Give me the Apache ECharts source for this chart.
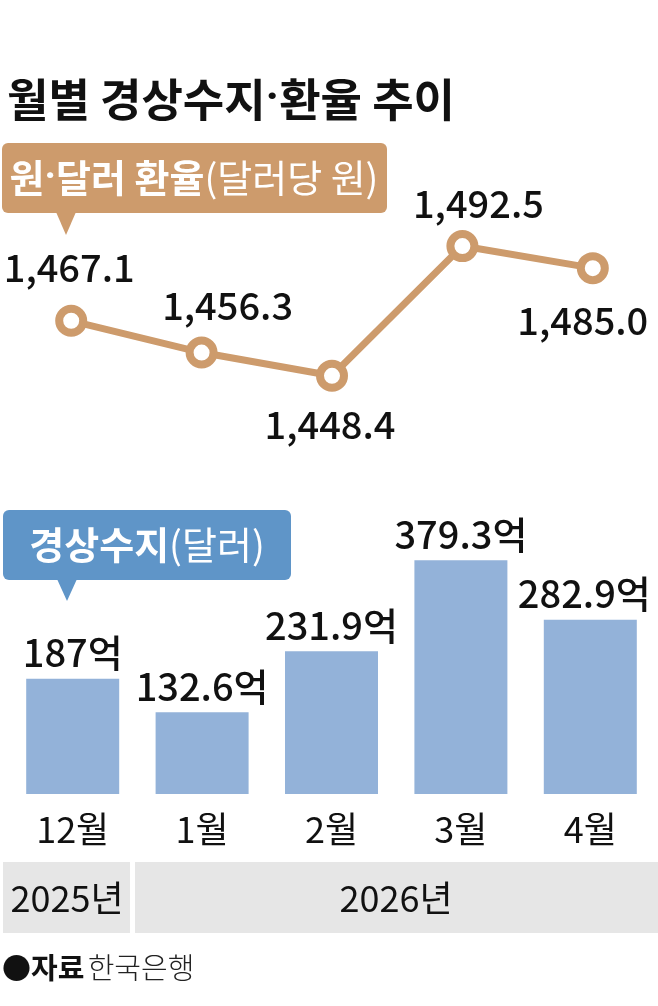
<!DOCTYPE html>
<html>
<head>
<meta charset="utf-8">
<script src="https://cdn.jsdelivr.net/npm/echarts@6/dist/echarts.min.js"></script>
<style>
  html, body { margin: 0; padding: 0; background: #fff; }
  #main { width: 658px; height: 1006px; }
</style>
</head>
<body>
<div id="main"></div>
<script>
// data
var months = ['12월', '1월', '2월', '3월', '4월'];
var years = ['2025년', '2026년'];
var rate = [1467.1, 1456.3, 1448.4, 1492.5, 1485.0];
var balance = [187, 132.6, 231.9, 379.3, 282.9];

var FONT = '"Noto Sans CJK KR", "Noto Sans", sans-serif';
var NARROW = '"Liberation Sans Narrow", "Noto Sans CJK KR", sans-serif';
var DOT = 'Roboto, "Noto Sans", sans-serif';
var BROWN = '#CD9B6C';
var BLUE = '#5F95C8';

// where each rate label sits, relative to its point
var rateLabelOffset = [[-2, -53], [26, -47], [-2, 49], [16, -43], [-10, 52]];

var chart = echarts.init(document.getElementById('main'), null, { renderer: 'canvas' });

var rateData = rate.map(function (v, i) {
	return {
		value: v,
		label: { offset: rateLabelOffset[i] }
	};
});

var balanceData = balance.map(function (v, i) {
	return {
		value: v,
		label: { offset: i == balance.length - 1 ? [-6, 0] : [0, 0] }
	};
});

function bubbleText(bold, normal, size) {
	return {
		b: { fontFamily: FONT, fontSize: size, fontWeight: 'bold', fill: '#fff' },
		d: { fontFamily: DOT, fontSize: size, fontWeight: 'bold', fill: '#fff' },
		n: { fontFamily: FONT, fontSize: size, fontWeight: 'normal', fill: '#fff' }
	};
}

var option = {
	backgroundColor: '#fff',
	animation: false,
	title: {
		text: '{a|월별 경상수지}{d|·}{a|환율 추이}',
		left: 2,
		top: 72,
		textStyle: {
			rich: {
				a: { fontFamily: FONT, fontSize: 45, fontWeight: 'bold', color: '#111' },
				d: { fontFamily: DOT, fontSize: 45, fontWeight: 'bold', color: '#111' }
			}
		}
	},
	grid: [
		{ left: 6, width: 657, top: 224, height: 176.5 },
		{ left: 8, width: 647, top: 547.6, height: 246.4 }
	],
	xAxis: [{
		gridIndex: 0,
		type: 'category',
		data: months,
		show: false
	}, {
		gridIndex: 1,
		type: 'category',
		data: months,
		axisLine: { show: false },
		axisTick: { show: false },
		axisLabel: {
			margin: 17,
			fontFamily: NARROW,
			fontSize: 36,
			color: '#111'
		}
	}],
	yAxis: [{
		gridIndex: 0,
		type: 'value',
		min: 1440,
		max: 1500,
		show: false
	}, {
		gridIndex: 1,
		type: 'value',
		min: 0,
		max: 400,
		show: false
	}],
	series: [{
		name: '원·달러 환율',
		type: 'line',
		xAxisIndex: 0,
		yAxisIndex: 0,
		data: rateData,
		symbol: 'circle',
		symbolSize: 24,
		lineStyle: { color: BROWN, width: 7 },
		itemStyle: { color: '#fff', borderColor: BROWN, borderWidth: 8 },
		label: {
			show: true,
			position: 'inside',
			fontFamily: FONT,
			fontSize: 38,
			fontWeight: 500,
			color: '#111',
			formatter: function (p) {
				return p.value.toLocaleString('en-US', { minimumFractionDigits: 1, maximumFractionDigits: 1 });
			}
		},
		z: 3
	}, {
		name: '경상수지',
		type: 'bar',
		xAxisIndex: 1,
		yAxisIndex: 1,
		data: balanceData,
		barWidth: 93,
		itemStyle: { color: '#93B2D9' },
		label: {
			show: true,
			position: 'top',
			distance: 7,
			fontFamily: FONT,
			fontSize: 38,
			fontWeight: 500,
			color: '#111',
			formatter: function (p) {
				return p.value + '억';
			}
		}
	}],
	graphic: [
		// brown legend bubble
		{
			type: 'group',
			left: 2,
			top: 143,
			children: [{
				type: 'rect',
				shape: { x: 0, y: 0, width: 385, height: 70, r: 6 },
				style: { fill: BROWN }
			}, {
				type: 'polygon',
				shape: { points: [[54, 69], [74, 69], [64, 92]] },
				style: { fill: BROWN }
			}, {
				type: 'text',
				x: 192,
				y: 35,
				style: {
					text: '{b|원}{d|·}{b|달러 환율}{n|(달러당 원)}',
					align: 'center',
					verticalAlign: 'middle',
					rich: bubbleText(true, true, 38)
				}
			}]
		},
		// blue legend bubble
		{
			type: 'group',
			left: 3,
			top: 510,
			children: [{
				type: 'rect',
				shape: { x: 0, y: 0, width: 288, height: 70, r: 6 },
				style: { fill: BLUE }
			}, {
				type: 'polygon',
				shape: { points: [[54, 69], [74, 69], [64, 91]] },
				style: { fill: BLUE }
			}, {
				type: 'text',
				x: 144,
				y: 35,
				style: {
					text: '{b|경상수지}{n|(달러)}',
					align: 'center',
					verticalAlign: 'middle',
					rich: bubbleText(true, true, 38)
				}
			}]
		},
		// year band
		{
			type: 'rect',
			shape: { x: 3, y: 862, width: 127, height: 71 },
			style: { fill: '#E6E6E6' }
		},
		{
			type: 'rect',
			shape: { x: 135, y: 862, width: 523, height: 71 },
			style: { fill: '#E6E6E6' }
		},
		{
			type: 'text',
			x: 67,
			y: 898,
			style: {
				text: years[0],
				align: 'center',
				verticalAlign: 'middle',
				fontFamily: NARROW,
				fontSize: 36,
				fill: '#111'
			}
		},
		{
			type: 'text',
			x: 396,
			y: 898,
			style: {
				text: years[1],
				align: 'center',
				verticalAlign: 'middle',
				fontFamily: NARROW,
				fontSize: 36,
				fill: '#111'
			}
		},
		// source
		{
			type: 'text',
			x: 2,
			y: 968,
			style: {
				text: '{b|●자료} {n|한국은행}',
				verticalAlign: 'middle',
				rich: {
					b: { fontFamily: FONT, fontSize: 29, fontWeight: 'bold', fill: '#111' },
					n: { fontFamily: FONT, fontSize: 29, fontWeight: 300, fill: '#222' }
				}
			}
		}
	]
};

chart.setOption(option);
</script>
</body>
</html>
